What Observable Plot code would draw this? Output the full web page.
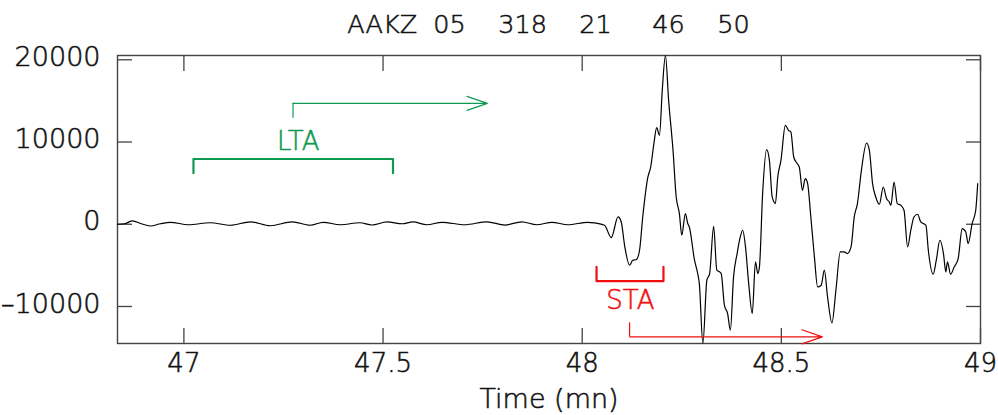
<!DOCTYPE html>
<html>
<head>
<meta charset="utf-8">
<script src="https://cdn.jsdelivr.net/npm/d3@7"></script>
<script src="https://cdn.jsdelivr.net/npm/@observablehq/plot@0.6"></script>
<style>
  html, body { margin: 0; padding: 0; background: #fff; }
  #wrap { position: relative; width: 998px; height: 415px; overflow: hidden; }
  #title { position: absolute; left: 117px; width: 863px; top: 12px; text-align: center;
           font-family: "DejaVu Sans", sans-serif; font-weight: 200; font-size: 25.5px; line-height: 25px;
           white-space: pre; color: #111; -webkit-text-stroke: 0.55px #111; }
  #chart { position: absolute; left: 0; top: 45px; }
  #chart svg { display: block; }
  #chart svg text { font-weight: 200; }
  #chart svg g[aria-label="x-axis tick label"], #chart svg g[aria-label="y-axis tick label"] { stroke: #111; stroke-width: 0.55px; }
</style>
</head>
<body>
<div id="wrap">
  <div id="title"></div>
  <div id="chart"></div>
</div>
<script>
// ---- data ----
const titleText = "AAKZ  05    318    21     46    50";
const xLabel = "Time (mn)";
const xTicks = [47, 47.5, 48, 48.5, 49];
const yTicks = [-10000, 0, 10000, 20000];
const xDomain = [46.8333, 49.0];
const yDomain = [-14500, 20520];

const times = [46.833,46.851,46.871,46.893,46.916,46.941,46.966,47.011,47.066,47.117,47.167,47.217,47.272,47.317,47.350,47.392,47.442,47.472,47.510,47.548,47.575,47.610,47.648,47.705,47.761,47.806,47.848,47.886,47.924,47.964,48.014,48.031,48.056,48.073,48.090,48.098,48.107,48.119,48.127,48.136,48.144,48.152,48.165,48.172,48.180,48.187,48.194,48.201,48.209,48.217,48.228,48.236,48.244,48.250,48.259,48.265,48.269,48.282,48.290,48.294,48.303,48.313,48.320,48.330,48.338,48.345,48.349,48.357,48.365,48.372,48.380,48.389,48.395,48.403,48.410,48.418,48.427,48.435,48.441,48.445,48.453,48.463,48.470,48.477,48.485,48.491,48.499,48.510,48.518,48.524,48.531,48.537,48.545,48.553,48.560,48.566,48.574,48.583,48.591,48.600,48.608,48.616,48.627,48.637,48.648,48.658,48.666,48.675,48.683,48.691,48.701,48.714,48.721,48.729,48.737,48.746,48.756,48.764,48.771,48.775,48.783,48.791,48.800,48.808,48.817,48.825,48.833,48.842,48.850,48.863,48.869,48.881,48.889,48.898,48.907,48.913,48.917,48.925,48.934,48.944,48.954,48.963,48.969,48.979,48.988,48.993];
const amps = [0,60,400,60,-210,60,240,-60,180,-120,300,-180,300,-120,240,-60,180,-90,280,60,280,-60,240,-60,300,-100,300,-60,240,-60,240,160,-120,-1616,887,280,-2758,-4982,-4374,-4289,-3159,887,5747,6962,9805,11749,10814,16281,20500,15066,8991,3317,1300,-1337,1300,85,-328,-4374,-5990,-7169,-14500,-6804,-5990,-243,-5589,-5796,-5990,-9842,-10850,-12879,-6403,-3560,-1944,-729,-2758,-7205,-10850,-4581,-5990,-5188,3730,9076,7776,3317,2515,5747,7776,12029,11421,11214,8177,7569,6962,4131,5553,4945,887,-3973,-7618,-7412,-5589,-8833,-11992,-8019,-3366,-3366,-3560,-2758,887,2515,6561,9878,8991,4945,3317,2430,4532,3123,2710,2309,5139,2515,2309,1701,-2758,-729,887,1215,280,-122,-3159,-6075,-4374,-1944,-3560,-5796,-4581,-6075,-5188,-4167,-522,-936,-2345,85,1701,4945];

// annotations (data coordinates)
const ltaBracketT = [47.024, 47.024, 47.525, 47.525];
const ltaBracketV = [6200, 7935, 7935, 6200];
const ltaLabel = {t: 47.287, v: 9076, text: "LTA"};
const ltaArrowStem = {t: 47.274, v1: 12880, v2: 14700};
const ltaArrow = {t1: 47.274, t2: 47.762, v: 14700};

const staBracketT = [48.036, 48.036, 48.204, 48.204];
const staBracketV = [-5188, -6926, -6926, -5188];
const staLabel = {t: 48.121, v: -10364, text: "STA"};
const staArrowStem = {t: 48.119, v1: -11990, v2: -13690};
const staArrow = {t1: 48.119, t2: 48.603, v: -13690};

const green = "#0f9a52";
const red = "#f01010";
const axisGray = "#444";

// ---- build ----
const trace = times.map((t, i) => ({t, v: amps[i]}));
const ltaB = ltaBracketT.map((t, i) => ({t, v: ltaBracketV[i]}));
const staB = staBracketT.map((t, i) => ({t, v: staBracketV[i]}));
const fmt = d => d < 0 ? "\u2013" + Math.abs(d) : String(d);

document.getElementById("title").textContent = titleText;

const chart = Plot.plot({
  width: 998,
  height: 370,
  marginTop: 10,
  marginBottom: 72,
  marginLeft: 117,
  marginRight: 18,
  style: {fontFamily: "DejaVu Sans, sans-serif", fontSize: "26px", background: "white", color: "#111", overflow: "visible"},
  x: {domain: xDomain},
  y: {domain: yDomain},
  marks: [
    // inward ticks
    Plot.axisX({anchor: "bottom", ticks: xTicks, tickSize: -15, tickFormat: () => "", label: null, stroke: axisGray, strokeWidth: 1.3}),
    Plot.axisX({anchor: "top", ticks: xTicks, tickSize: -15, tickFormat: () => "", label: null, stroke: axisGray, strokeWidth: 1.3}),
    Plot.axisY({anchor: "left", ticks: yTicks, tickSize: -15, tickFormat: () => "", label: null, stroke: axisGray, strokeWidth: 1.3}),
    Plot.axisY({anchor: "right", ticks: yTicks, tickSize: -15, tickFormat: () => "", label: null, stroke: axisGray, strokeWidth: 1.3}),
    // labels
    Plot.axisX({anchor: "bottom", ticks: xTicks, tickSize: 0, tickPadding: 10, fontSize: 26, label: null, tickFormat: d => String(d)}),
    Plot.axisY({anchor: "left", ticks: yTicks, tickSize: 0, tickPadding: 17, fontSize: 27, dy: -2.5, label: null, tickFormat: fmt}),
    Plot.text([xLabel], {frameAnchor: "bottom", dy: 64, lineAnchor: "bottom", fontSize: 27, fill: "#111", stroke: "#111", strokeWidth: 0.55}),
    Plot.frame({stroke: axisGray, strokeWidth: 1.4}),
    // waveform
    Plot.line(trace, {x: "t", y: "v", stroke: "#000", strokeWidth: 1.2, curve: "monotone-x"}),
    // LTA
    Plot.line(ltaB, {x: "t", y: "v", stroke: green, strokeWidth: 2.2}),
    Plot.text([ltaLabel], {x: "t", y: "v", text: "text", fill: green, stroke: green, strokeWidth: 0.55, fontSize: 26, lineAnchor: "bottom"}),
    Plot.ruleX([ltaArrowStem], {x: "t", y1: "v1", y2: "v2", stroke: green, strokeWidth: 1.2}),
    Plot.arrow([ltaArrow], {x1: "t1", x2: "t2", y1: "v", y2: "v", stroke: green, strokeWidth: 1.2, headLength: 27, headAngle: 38}),
    // STA
    Plot.line(staB, {x: "t", y: "v", stroke: red, strokeWidth: 2.2}),
    Plot.text([staLabel], {x: "t", y: "v", text: "text", fill: red, stroke: red, strokeWidth: 0.55, fontSize: 26, lineAnchor: "bottom"}),
    Plot.ruleX([staArrowStem], {x: "t", y1: "v1", y2: "v2", stroke: red, strokeWidth: 1.2}),
    Plot.arrow([staArrow], {x1: "t1", x2: "t2", y1: "v", y2: "v", stroke: red, strokeWidth: 1.2, headLength: 27, headAngle: 38})
  ]
});
document.getElementById("chart").appendChild(chart);
</script>
</body>
</html>
